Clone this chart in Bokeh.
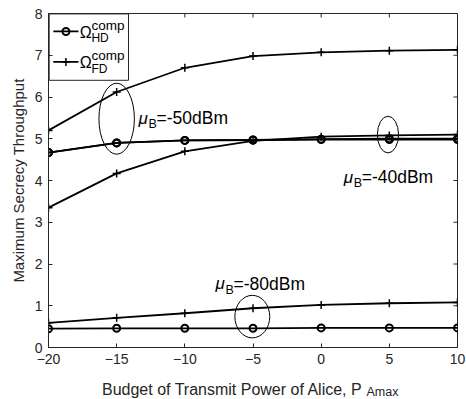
from bokeh.plotting import figure
from bokeh.layouts import column
from bokeh.models import Range1d, FixedTicker, Label, Ellipse, ColumnDataSource
from bokeh.core.properties import value
from bokeh.embed import file_html
from bokeh.resources import INLINE

# ---- data ----
p_amax = [-20, -15, -10, -5, 0, 5, 10]
hd_m50 = [4.67, 4.90, 4.96, 4.97, 4.98, 4.98, 4.98]
fd_m50 = [5.20, 6.12, 6.70, 6.98, 7.07, 7.11, 7.13]
hd_m40 = [4.67, 4.90, 4.96, 4.97, 4.99, 5.00, 5.00]
fd_m40 = [3.35, 4.17, 4.70, 4.95, 5.05, 5.08, 5.10]
hd_m80 = [0.45, 0.46, 0.46, 0.46, 0.47, 0.47, 0.47]
fd_m80 = [0.59, 0.71, 0.82, 0.94, 1.02, 1.06, 1.08]
x_ticks = [-20, -15, -10, -5, 0, 5, 10]
y_ticks = [0, 1, 2, 3, 4, 5, 6, 7, 8]

# ellipse annotations (centre x, centre y, width, height) in data units
ell_x = [-15.0, 4.9, -5.05]
ell_y = [5.48, 5.10, 0.74]
ell_w = [2.6, 1.55, 2.56]
ell_h = [1.7, 0.88, 1.02]
mu_labels = ["-50dBm", "-40dBm", "-80dBm"]
mu_x = [-13.4, 1.65, -7.75]
mu_y = [5.49, 4.08, 1.53]

x_label = "Budget of Transmit Power of Alice, P"
x_label_sub = "Amax"
y_label = "Maximum Secrecy Throughput"

FONT = "Liberation Sans"
AX = "#262626"
FW, FH = 409, 334
BL, BR = 48, 9

p = figure(frame_width=FW, frame_height=FH, output_backend="svg", toolbar_location=None,
           x_range=Range1d(-20, 10), y_range=Range1d(0, 8),
           min_border_left=BL, min_border_right=BR, min_border_top=13, min_border_bottom=24)
p.grid.visible = False
p.outline_line_color = AX
p.outline_line_width = 1

for ax in (p.xaxis[0], p.yaxis[0]):
    ax.major_label_text_font = FONT
    ax.major_label_text_font_size = "14px"
    ax.major_label_text_color = AX
    ax.axis_line_color = AX
    ax.major_tick_line_color = AX
    ax.major_tick_in = 4
    ax.major_tick_out = 0
    ax.minor_tick_line_color = None
p.xaxis[0].ticker = FixedTicker(ticks=x_ticks)
p.yaxis[0].ticker = FixedTicker(ticks=y_ticks)
p.xaxis[0].major_label_standoff = 6
p.yaxis[0].major_label_standoff = 6
p.yaxis[0].axis_label = y_label
p.yaxis[0].axis_label_text_font = FONT
p.yaxis[0].axis_label_text_font_size = "15px"
p.yaxis[0].axis_label_text_font_style = "normal"
p.yaxis[0].axis_label_text_color = AX
p.yaxis[0].axis_label_standoff = 5

# mirrored tick marks on top and right edges of the box
tick_dx = 4 * 30 / FW
tick_dy = 4 * 8 / FH
p.segment(x0=x_ticks, y0=[8] * len(x_ticks), x1=x_ticks, y1=[8 - tick_dy] * len(x_ticks),
          line_color=AX, line_width=1)
p.segment(x0=[10] * len(y_ticks), y0=y_ticks, x1=[10 - tick_dx] * len(y_ticks), y1=y_ticks,
          line_color=AX, line_width=1)

LW = 1.8
for ys in (hd_m50, hd_m40, hd_m80):
    p.line(p_amax, ys, line_color="black", line_width=LW)
    p.scatter(p_amax, ys, marker="circle", size=7, fill_color=None, line_color="black", line_width=2)
for ys in (fd_m50, fd_m40, fd_m80):
    p.line(p_amax, ys, line_color="black", line_width=LW)
    p.scatter(p_amax, ys, marker="cross", size=8, line_color="black", line_width=1.5)

src = ColumnDataSource(dict(x=ell_x, y=ell_y, w=ell_w, h=ell_h))
p.add_glyph(src, Ellipse(x="x", y="y", width="w", height="h", fill_color=None,
                         line_color="black", line_width=1))

for lab, lx, ly in zip(mu_labels, mu_x, mu_y):
    p.add_layout(Label(x=lx, y=ly, text="\u03bc", text_font=FONT, text_font_style="italic",
                       text_font_size="17px", text_baseline="middle", text_color="black"))
    p.add_layout(Label(x=lx, y=ly, x_offset=10, y_offset=-6, text="B", text_font=FONT,
                       text_font_size="12.5px", text_baseline="middle", text_color="black"))
    p.add_layout(Label(x=lx, y=ly, x_offset=18, text="=" + lab, text_font=FONT,
                       text_font_size="17.5px", text_baseline="middle", text_color="black"))

# legend box (drawn manually for super/subscripts)
p.quad(left=[-19.95], right=[-14.13], bottom=[6.4], top=[7.99], fill_color="white",
       line_color=AX, line_width=1)
leg_y = [7.57, 6.84]
leg_sub = ["HD", "FD"]
leg_mark = ["circle", "cross"]
for ly, sub, mk in zip(leg_y, leg_sub, leg_mark):
    p.line([-19.65, -17.8], [ly, ly], line_color="black", line_width=LW)
    p.scatter([-18.72], [ly], marker=mk, size=7 if mk == "circle" else 8, fill_color=None,
              line_color="black", line_width=2 if mk == "circle" else 1.5)
    p.add_layout(Label(x=-17.7, y=ly, y_offset=-1, text="\u03a9", text_font=FONT, text_font_size="16px",
                       text_baseline="middle", text_color="black"))
    p.add_layout(Label(x=-16.85, y=ly, y_offset=6, text="comp", text_font=FONT,
                       text_font_size="13.5px", text_baseline="middle", text_color="black"))
    p.add_layout(Label(x=-16.85, y=ly, y_offset=-7, text=sub, text_font=FONT,
                       text_font_size="12px", text_baseline="middle", text_color="black"))

# x-axis label (with subscript) in a strip below the plot, sharing the x scale
q = figure(frame_width=FW, frame_height=28, output_backend="svg", toolbar_location=None,
           x_range=p.x_range, y_range=Range1d(0, 28),
           min_border_left=BL, min_border_right=BR, min_border_top=0, min_border_bottom=0)
q.axis.visible = False
q.grid.visible = False
q.outline_line_color = None
q.text(x=[-20 + (101.5 - BL) * 30 / FW], y=[10], text=[x_label], text_font=value(FONT),
       text_font_size="16px", text_baseline="alphabetic", text_color=AX)
q.text(x=[-20 + (366 - BL) * 30 / FW], y=[0.5], text=[x_label_sub], text_font=value(FONT),
       text_font_size="12.5px", text_baseline="bottom", text_color=AX)

layout = column(p, q, spacing=0)
open("out.html", "w").write(file_html(layout, INLINE))
